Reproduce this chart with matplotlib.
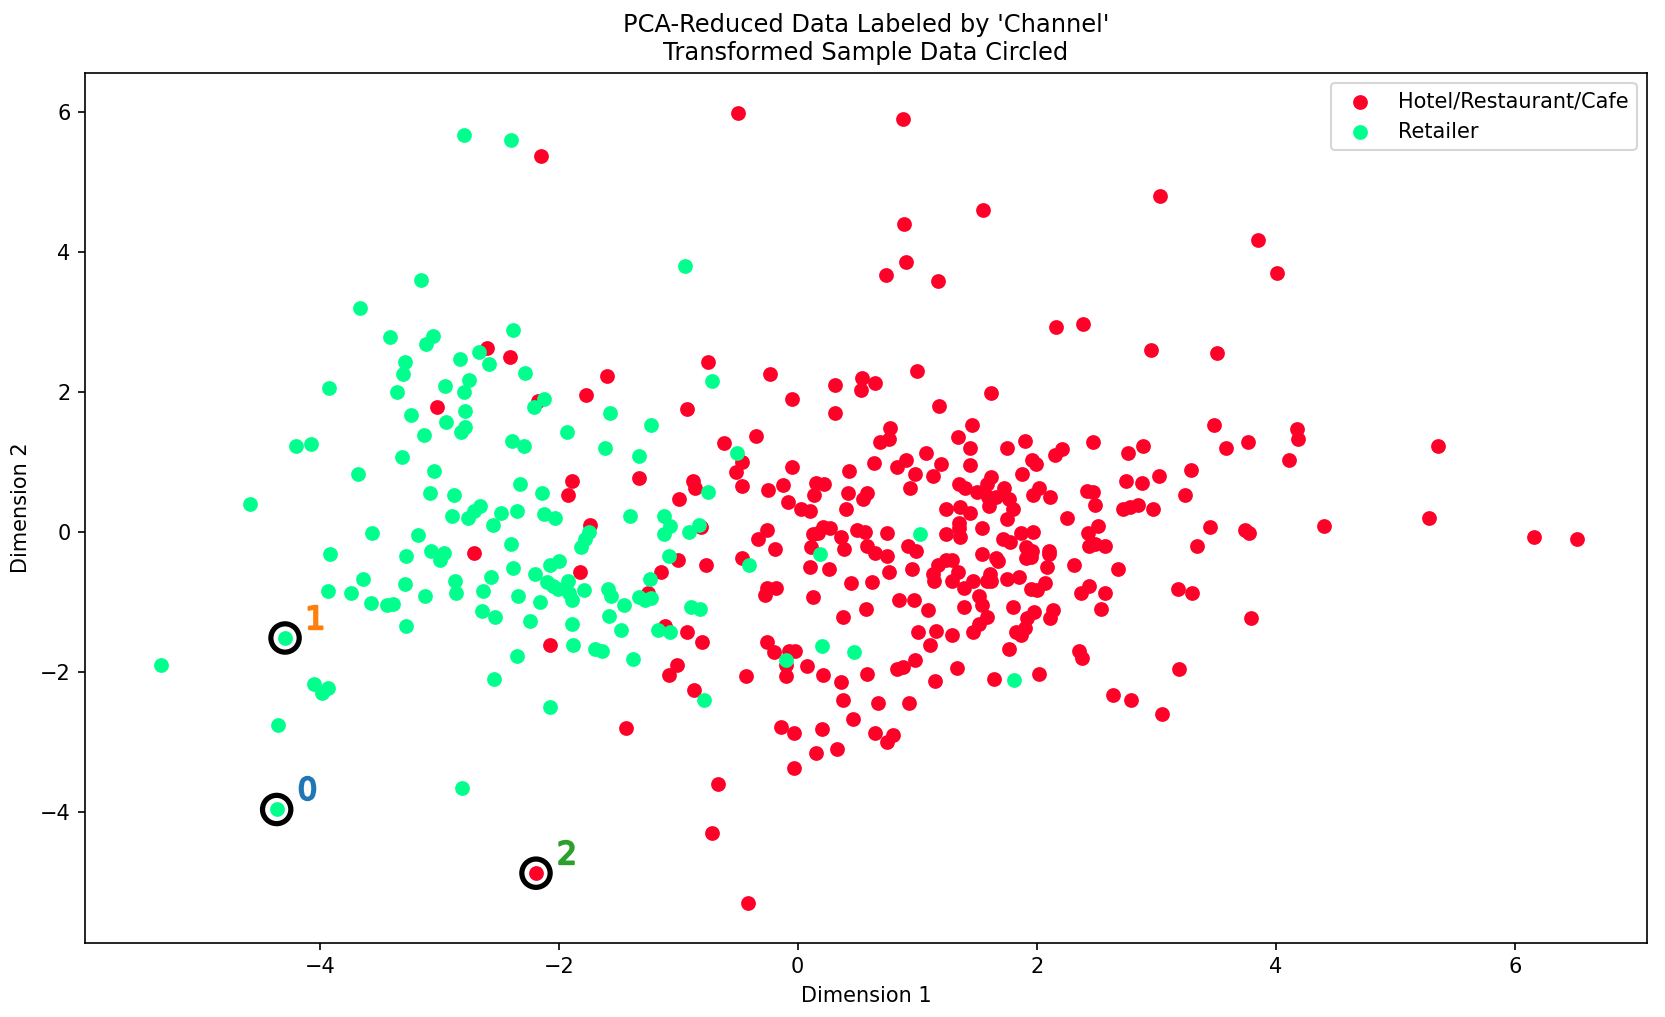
import numpy as np
import matplotlib
matplotlib.use('Agg')
import matplotlib.pyplot as plt

# PCA-reduced points (Dimension 1, Dimension 2)
hotel = [
    (-2.60, 2.64), (-3.02, 1.79), (-2.71, -0.29),
    (-0.50, 5.99), (-2.15, 5.37), (-2.41, 2.51), (-0.75, 2.44), (-1.60, 2.23), (-0.23, 2.26),
    (0.31, 2.11), (0.54, 2.20), (0.65, 2.14), (0.53, 2.04), (-1.77, 1.96), (-2.17, 1.87),
    (-0.05, 1.90), (-0.93, 1.76), (0.31, 1.70), (-0.35, 1.37), (-0.62, 1.27), (0.69, 1.29),
    (-0.47, 1.01), (-0.52, 0.86), (-0.05, 0.93), (0.43, 0.87), (0.64, 0.99), (-1.89, 0.74),
    (-1.92, 0.53), (-1.33, 0.77), (-0.88, 0.74), (-0.86, 0.64), (-0.47, 0.66), (-0.25, 0.60),
    (-0.12, 0.67), (0.15, 0.70), (0.22, 0.69), (0.14, 0.54), (0.42, 0.56), (0.58, 0.56),
    (0.55, 0.47), (-0.99, 0.47), (-0.08, 0.44),
    (-1.74, 0.10), (-0.81, 0.08), (0.03, 0.33), (0.10, 0.31), (0.40, 0.33), (-0.26, 0.03),
    (-0.33, -0.10), (-0.19, -0.24), (0.13, -0.03), (0.17, -0.01), (0.21, 0.07), (0.27, 0.06),
    (0.36, -0.06), (0.50, 0.04), (0.56, 0.00), (0.58, -0.19), (0.65, -0.29), (0.11, -0.21),
    (0.39, -0.24), (-0.47, -0.36), (-1.00, -0.40), (-0.77, -0.47), (0.10, -0.49), (0.26, -0.53),
    (-1.82, -0.56), (-1.14, -0.57), (0.45, -0.73), (0.62, -0.71), (-0.26, -0.79), (-0.18, -0.80),
    (-0.27, -0.90), (0.13, -0.93), (-1.25, -0.87), (0.57, -1.10), (0.38, -1.21), (-1.11, -1.34),
    (-0.93, -1.43), (-0.80, -1.57), (-2.07, -1.61), (-0.26, -1.56), (-0.20, -1.71), (-0.07, -1.69),
    (-0.02, -1.70), (-0.10, -1.90), (-0.10, -2.05), (0.08, -1.91), (0.21, -2.04), (0.36, -2.14),
    (0.58, -2.03), (-1.01, -1.90), (-1.08, -2.04), (-0.43, -2.06), (-0.87, -2.26), (0.38, -2.39),
    (0.67, -2.44), (0.46, -2.67), (-1.44, -2.80), (-0.14, -2.78), (-0.03, -2.87), (0.20, -2.81),
    (0.65, -2.87), (0.15, -3.16), (0.33, -3.09), (-0.03, -3.37), (-0.67, -3.59), (-0.72, -4.29),
    (-2.19, -4.87), (-0.42, -5.30),
    (0.88, 5.91), (3.03, 4.80), (1.55, 4.61), (0.89, 4.41), (3.85, 4.17), (0.91, 3.86),
    (0.74, 3.67), (1.17, 3.59), (2.16, 2.94), (2.39, 2.97), (2.96, 2.61), (3.51, 2.56),
    (1.00, 2.30), (1.62, 1.99), (1.18, 1.81), (1.46, 1.54), (0.77, 1.49), (0.76, 1.34),
    (1.34, 1.36), (1.44, 1.20), (1.07, 1.13), (0.91, 1.04), (0.83, 0.94), (1.20, 0.97),
    (0.98, 0.83), (1.13, 0.81), (0.94, 0.63), (1.44, 0.96), (1.75, 1.20), (1.90, 1.31),
    (1.96, 1.04), (1.99, 0.97), (1.88, 0.84), (2.15, 1.11), (2.21, 1.19), (2.47, 1.29),
    (2.76, 1.13), (2.89, 1.24), (3.48, 1.53), (3.58, 1.20), (3.77, 1.29), (3.29, 0.89),
    (3.02, 0.80), (2.75, 0.74), (2.88, 0.71), (3.24, 0.53), (1.35, 0.69), (1.40, 0.64),
    (1.62, 0.79), (1.58, 0.69), (1.50, 0.57), (1.73, 0.63), (1.59, 0.50), (1.66, 0.50),
    (1.77, 0.47), (1.97, 0.54), (2.02, 0.63), (2.11, 0.50), (2.42, 0.59), (2.47, 0.57),
    (2.49, 0.39),
    (1.24, 0.33), (1.36, 0.36), (1.44, 0.27), (1.60, 0.37), (1.80, 0.34), (1.75, 0.19),
    (2.25, 0.20), (2.72, 0.33), (2.78, 0.36), (2.85, 0.39), (2.97, 0.33), (0.75, -0.01),
    (1.35, 0.14), (1.35, 0.06), (1.24, -0.03), (1.36, -0.06), (1.54, 0.06), (1.87, -0.01),
    (1.97, 0.00), (2.51, 0.09), (2.43, -0.01), (3.45, 0.07), (3.74, 0.03), (3.78, -0.01),
    (1.72, -0.10), (1.78, -0.14), (0.92, -0.20), (0.99, -0.26), (0.75, -0.34), (1.91, -0.21),
    (1.96, -0.26), (2.10, -0.26), (2.10, -0.31), (2.44, -0.20), (2.49, -0.17), (2.57, -0.20),
    (3.34, -0.20), (1.54, -0.31), (1.66, -0.37), (1.68, -0.41), (1.91, -0.37), (1.95, -0.35),
    (1.24, -0.40), (1.29, -0.39), (1.17, -0.47), (2.09, -0.49), (2.31, -0.47), (2.68, -0.53),
    (0.76, -0.57), (0.96, -0.53), (1.13, -0.60), (1.14, -0.69), (1.34, -0.56), (1.29, -0.70),
    (1.39, -0.80), (1.47, -0.70), (1.61, -0.59), (1.58, -0.69), (1.62, -0.69), (1.75, -0.67),
    (1.85, -0.64), (1.95, -0.81), (2.00, -0.83), (2.07, -0.73), (2.37, -0.87), (2.44, -0.77),
    (2.57, -0.87), (3.18, -0.81), (3.30, -0.86), (0.85, -0.97), (0.97, -0.97), (1.09, -1.11),
    (1.39, -1.07), (1.52, -0.91), (1.54, -1.04), (1.80, -1.06), (1.98, -1.14), (2.14, -1.11),
    (2.11, -1.23), (2.54, -1.10), (3.79, -1.23), (1.58, -1.21), (1.52, -1.31), (1.47, -1.43),
    (1.92, -1.23), (1.90, -1.36), (1.83, -1.43), (1.87, -1.47), (1.01, -1.43), (1.16, -1.41),
    (1.29, -1.46), (1.11, -1.61), (1.77, -1.66), (2.35, -1.70), (2.38, -1.79), (0.98, -1.83),
    (0.83, -1.96), (0.88, -1.93), (1.33, -1.94), (1.15, -2.13), (1.64, -2.10), (2.02, -2.03),
    (3.19, -1.96), (0.93, -2.44), (2.64, -2.33), (2.79, -2.39), (3.05, -2.60), (0.80, -2.90),
    (0.75, -3.00),
    (4.01, 3.70), (4.18, 1.47), (4.19, 1.33), (4.11, 1.04), (5.36, 1.23), (4.40, 0.09),
    (5.28, 0.21), (6.16, -0.06), (6.52, -0.10),
]

retailer = [
    (-2.79, 5.67), (-3.15, 3.61), (-3.66, 3.21), (-3.41, 2.79), (-3.05, 2.81), (-3.11, 2.69),
    (-3.29, 2.44), (-2.83, 2.47), (-2.67, 2.57), (-2.58, 2.41), (-3.30, 2.26), (-2.75, 2.17),
    (-2.95, 2.09), (-2.79, 2.01), (-3.35, 2.00), (-3.92, 2.06), (-3.24, 1.67), (-2.78, 1.73),
    (-2.94, 1.57), (-2.78, 1.50), (-2.82, 1.44), (-3.13, 1.39), (-4.20, 1.24), (-4.07, 1.26),
    (-3.31, 1.07), (-3.68, 0.84), (-3.04, 0.87),
    (-3.08, 0.56), (-2.88, 0.53), (-4.58, 0.40), (-2.89, 0.23), (-2.76, 0.20), (-2.71, 0.31),
    (-2.66, 0.37), (-2.55, 0.10), (-2.48, 0.27), (-3.56, -0.01), (-3.18, -0.04), (-3.91, -0.31),
    (-3.28, -0.34), (-3.07, -0.27), (-2.96, -0.29), (-2.99, -0.39), (-3.64, -0.66), (-3.29, -0.74),
    (-2.87, -0.69), (-2.86, -0.86), (-2.57, -0.64), (-2.63, -0.84), (-3.93, -0.84), (-3.74, -0.87),
    (-3.57, -1.01), (-3.44, -1.04), (-3.39, -1.03), (-3.12, -0.91), (-2.64, -1.13), (-2.53, -1.21),
    (-3.28, -1.34), (-4.29, -1.51), (-5.33, -1.90), (-4.05, -2.17), (-3.93, -2.23), (-3.98, -2.29),
    (-2.54, -2.10), (-4.35, -2.76), (-2.81, -3.66), (-4.36, -3.96),
    (-2.40, 5.61), (-0.94, 3.80), (-2.38, 2.89), (-2.28, 2.27), (-2.12, 1.91), (-2.21, 1.79),
    (-1.57, 1.71), (-1.23, 1.54), (-1.93, 1.44), (-2.39, 1.31), (-2.29, 1.23), (-1.61, 1.21),
    (-1.33, 1.09), (-0.72, 2.16), (-0.51, 1.14), (-2.32, 0.69), (-2.14, 0.56), (-0.75, 0.57),
    (-2.35, 0.31), (-2.12, 0.26), (-2.03, 0.20), (-1.40, 0.23), (-1.12, 0.24), (-1.07, 0.09),
    (-1.12, -0.03), (-0.91, 0.00), (-0.83, 0.10), (-1.75, 0.01), (-1.78, -0.10), (-1.81, -0.21),
    (-2.40, -0.17), (-1.08, -0.34), (0.19, -0.31), (-0.41, -0.47), (-2.38, -0.51), (-2.20, -0.59),
    (-2.07, -0.47), (-2.00, -0.41), (-2.10, -0.71), (-2.05, -0.76), (-2.01, -0.81), (-1.92, -0.70),
    (-1.91, -0.87), (-1.89, -0.97), (-1.79, -0.83), (-2.34, -0.91), (-2.16, -1.00), (-1.59, -0.81),
    (-1.56, -0.91), (-1.45, -1.04), (-1.24, -0.67), (-1.33, -0.93), (-1.28, -0.97), (-1.23, -0.94),
    (-0.89, -1.07), (-0.82, -1.09), (-2.24, -1.26), (-1.89, -1.31), (-1.58, -1.20), (-1.48, -1.40),
    (-1.17, -1.40), (-1.07, -1.43), (-1.88, -1.61), (-1.70, -1.67), (-1.64, -1.70), (-2.35, -1.76),
    (-1.38, -1.81), (0.20, -1.63), (0.47, -1.71), (-0.10, -1.83), (-2.07, -2.50), (-0.78, -2.40),
    (1.02, -0.03), (1.81, -2.11),
]

# transformed sample points that get circled and numbered
samples = [(-4.36, -3.96), (-4.29, -1.51), (-2.19, -4.87)]

labels = ['Hotel/Restaurant/Cafe', 'Retailer']

hotel = np.array(hotel)
retailer = np.array(retailer)
samples = np.array(samples)

cmap = plt.get_cmap('gist_rainbow')

fig = plt.figure(figsize=(11.1, 6.78), dpi=150)
ax = fig.add_axes([0.05105, 0.07306, 0.93814, 0.85545])

for i, pts in enumerate([hotel, retailer]):
    ax.scatter(pts[:, 0], pts[:, 1], color=cmap(i * 0.5), label=labels[i], s=37)

for i, sample in enumerate(samples):
    ax.scatter(sample[0], sample[1], s=185, linewidth=2.5, edgecolors='black', facecolors='none')
    ax.scatter(sample[0] + 0.25, sample[1] + 0.3, marker='$%d$' % i, alpha=1, s=125)

ax.set_xlim(-5.964, 7.107)
ax.set_ylim(-5.863, 6.566)
ax.legend(loc='upper right')
ax.set_xlabel('Dimension 1')
ax.set_ylabel('Dimension 2')
ax.set_title("PCA-Reduced Data Labeled by 'Channel'\nTransformed Sample Data Circled", fontsize=11.6)

fig.savefig('out.png', dpi=150)
